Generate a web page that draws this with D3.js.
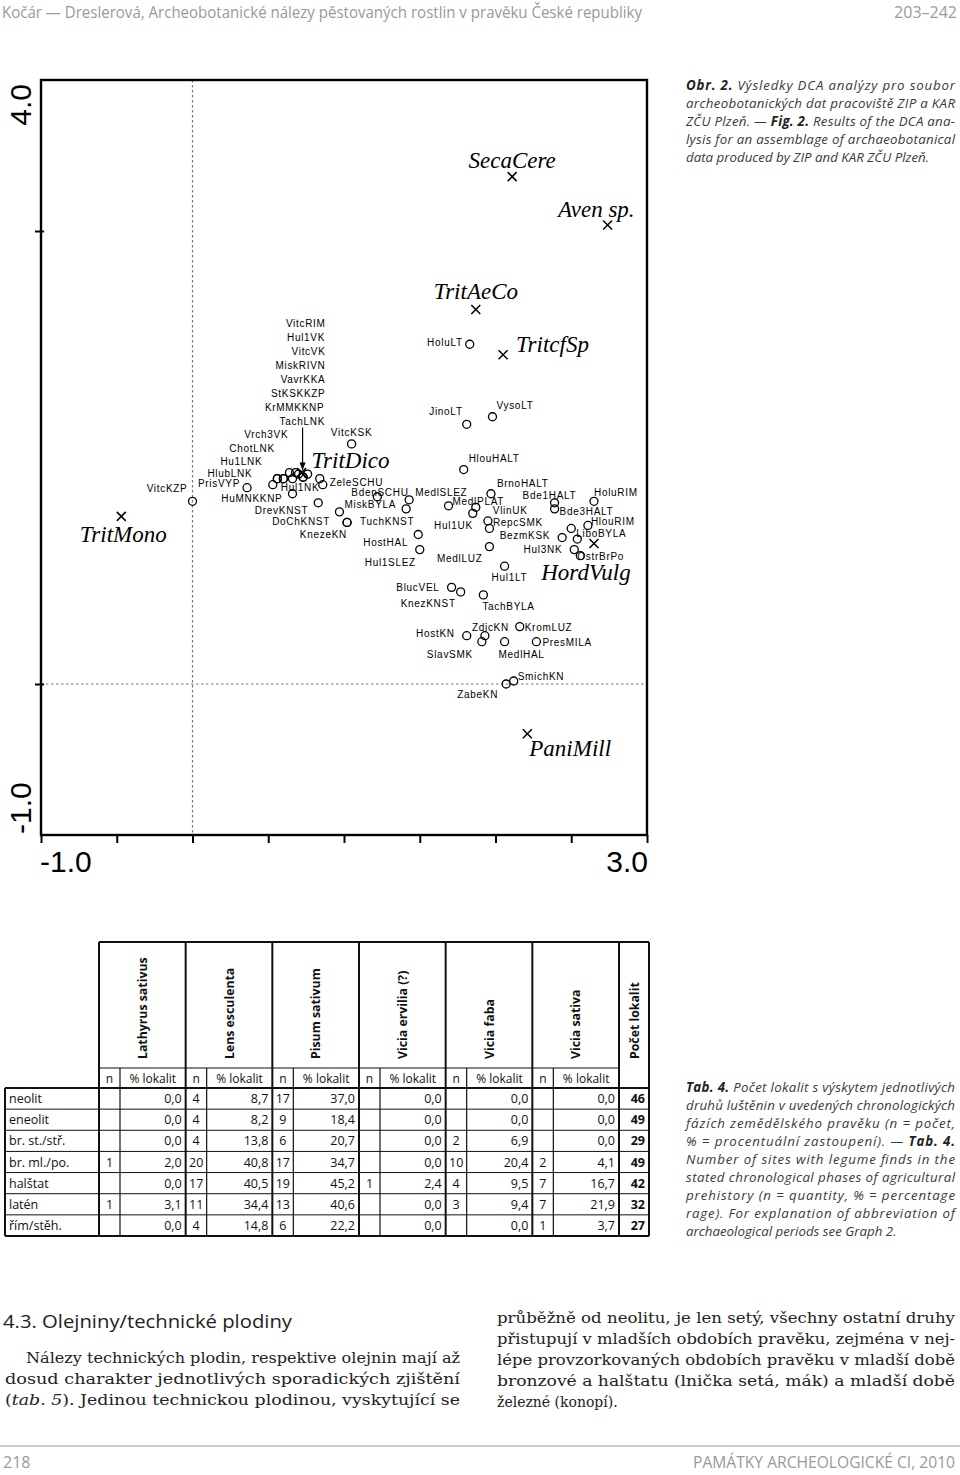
<!DOCTYPE html>
<html><head><meta charset="utf-8">
<script src="https://cdn.jsdelivr.net/npm/d3@7"></script>
<style>body{margin:0;background:#fff}svg{display:block}</style>
</head><body><svg id="c" width="960" height="1475"></svg>
<script>
// ---------- DCA ordination data (axis units) ----------
const speciesNames = ["SecaCere","Aven sp.","TritAeCo","TritcfSp","TritDico","TritMono","HordVulg","PaniMill"];
const speciesX = [2.11, 2.74, 1.87, 2.05, 0.72, -0.47, 2.65, 2.21];
const speciesY = [3.36, 3.04, 2.48, 2.18, 1.40, 1.11, 0.93, -0.33];

const siteNames = ["VitcRIM","Hul1VK","VitcVK","MiskRIVN","VavrKKA","StKSKKZP","KrMMKKNP","TachLNK","Vrch3VK","ChotLNK","Hu1LNK","HlubLNK",
  "PrisVYP","VitcKZP","HuMNKKNP","Hul1NK","ZeleSCHU","VitcKSK","DrevKNST","MiskBYLA","DoChKNST","KnezeKN","BdenSCHU","MedlSLEZ","TuchKNST","HostHAL","Hul1SLEZ",
  "HoluLT","JinoLT","VysoLT","HlouHALT","BrnoHALT","MedlPLAT","VlinUK","Hul1UK","RepcSMK","BezmKSK","MedlLUZ","Hul1LT",
  "Bde1HALT","Bde3HALT","HoluRIM","HlouRIM","LiboBYLA","Hul3NK","OstrBrPo",
  "BlucVEL","KnezKNST","TachBYLA","KromLUZ","ZdicKN","HostKN","SlavSMK","MedlHAL","PresMILA","SmichKN","ZabeKN"];
const siteX = [0.76,0.73,0.70,0.68,0.64,0.66,0.60,0.73,0.56,0.53,0.60,0.56,
  0.36,0.00,0.66,0.84,0.86,1.05,0.83,0.97,1.02,1.02,1.22,1.43,1.41,1.49,1.50,
  1.83,1.81,1.98,1.79,1.97,1.69,1.87,1.85,1.95,2.44,1.96,2.06,
  2.39,2.39,2.65,2.61,2.50,2.52,2.56,
  1.71,1.77,1.92,2.16,1.93,1.81,1.91,2.06,2.27,2.12,2.07];
const siteY = [1.39,1.37,1.39,1.40,1.40,1.36,1.36,1.37,1.36,1.32,1.36,1.36,
  1.30,1.21,1.26,1.36,1.32,1.59,1.20,1.14,1.07,1.07,1.24,1.22,1.16,0.99,0.89,
  2.25,1.72,1.77,1.42,1.26,1.18,1.17,1.13,1.08,0.97,0.91,0.78,
  1.20,1.16,1.21,1.05,1.03,0.89,0.85,
  0.64,0.61,0.59,0.38,0.32,0.32,0.28,0.28,0.28,0.02,0.00];
// sample points whose labels are not printed
const unlabeledX = [1.96, 2.54];
const unlabeledY = [1.03, 0.96];

const xTicks = [-1,-0.5,0,0.5,1,1.5,2,2.5,3];
const yTicks = [0,3];
const xTickLabels = ["-1.0","3.0"];
const yTickLabels = ["-1.0","4.0"];

// ---------- Table 4 data ----------
const periods = ["neolit","eneolit","br. st./stř.","br. ml./po.","halštat","latén","řím/stěh."];
const legumes = ["Lathyrus sativus","Lens esculenta","Pisum sativum","Vicia ervilia (?)","Vicia faba","Vicia sativa"];
const nLathyrus = [null,null,null,1,null,1,null];
const pLathyrus = [0.0,0.0,0.0,2.0,0.0,3.1,0.0];
const nLens = [4,4,4,20,17,11,4];
const pLens = [8.7,8.2,13.8,40.8,40.5,34.4,14.8];
const nPisum = [17,9,6,17,19,13,6];
const pPisum = [37.0,18.4,20.7,34.7,45.2,40.6,22.2];
const nErvilia = [null,null,null,null,1,null,null];
const pErvilia = [0.0,0.0,0.0,0.0,2.4,0.0,0.0];
const nFaba = [null,null,2,10,4,3,null];
const pFaba = [0.0,0.0,6.9,20.4,9.5,9.4,0.0];
const nSativa = [null,null,null,2,7,7,1];
const pSativa = [0.0,0.0,0.0,4.1,16.7,21.9,3.7];
const totalSites = [46,49,29,49,42,32,27];

// ---------- layout (label offsets in px) ----------
const speciesLabel = {
  "SecaCere":[0,-9,"middle"],"Aven sp.":[27,-8,"end"],"TritAeCo":[0,-11,"middle"],"TritcfSp":[13,-3,"start"],
  "TritDico":[10,-5,"start"],"TritMono":[2,26,"middle"],"HordVulg":[-8,36,"middle"],"PaniMill":[2,22,"start"]};
const siteLabel = {
  VitcRIM:[18,-147,"end"],Hul1VK:[22,-136,"end"],VitcVK:[27,-119,"end"],MiskRIVN:[30,-104,"end"],VavrKKA:[36,-90,"end"],
  StKSKKZP:[33,-82,"end"],KrMMKKNP:[41,-68,"end"],TachLNK:[22,-52,"end"],Vrch3VK:[11,-41,"end"],ChotLNK:[2,-33,"end"],
  Hu1LNK:[-21,-14,"end"],HlubLNK:[-25,-2,"end"],PrisVYP:[-7,-1,"end"],VitcKZP:[-5,-9,"end"],HuMNKKNP:[-10,8,"end"],
  Hul1NK:[-39,12,"start"],ZeleSCHU:[7,1,"start"],VitcKSK:[0,-8,"middle"],DrevKNST:[-10,11,"end"],MiskBYLA:[5,-4,"start"],
  DoChKNST:[-17,3,"end"],KnezeKN:[0,16,"end"],BdenSCHU:[-26,-1,"start"],MedlSLEZ:[6,-4,"start"],TuchKNST:[-46,16,"start"],
  HostHAL:[-55,11,"start"],Hul1SLEZ:[-55,16,"start"],HoluLT:[-7,2,"end"],JinoLT:[-4,-9,"end"],VysoLT:[4,-8,"start"],
  HlouHALT:[5,-8,"start"],BrnoHALT:[6,-7,"start"],MedlPLAT:[4,-1,"start"],VlinUK:[17,7,"start"],Hul1UK:[0,16,"end"],
  RepcSMK:[5,5,"start"],BezmKSK:[-12,1,"end"],MedlLUZ:[-7,15,"end"],Hul1LT:[-13,15,"start"],Bde1HALT:[-32,-4,"start"],
  Bde3HALT:[5,6,"start"],HoluRIM:[0,-5,"start"],HlouRIM:[3,0,"start"],LiboBYLA:[5,9,"start"],Hul3NK:[-12,3,"end"],
  OstrBrPo:[-3,4,"start"],BlucVEL:[-12,4,"end"],KnezKNST:[-60,15,"start"],TachBYLA:[-1,15,"start"],KromLUZ:[5,4,"start"],
  ZdicKN:[-13,-5,"start"],HostKN:[-12,1,"end"],SlavSMK:[-9,16,"end"],MedlHAL:[-6,16,"start"],PresMILA:[6,4,"start"],
  SmichKN:[4,-1,"start"],ZabeKN:[-8,14,"end"]};

const svg = d3.select("#c");
svg.append("rect").attr("width",960).attr("height",1475).attr("fill","#fff");

// ---------- running header ----------
svg.append("text").attr("x",2).attr("y",18).attr("font-family","Open Sans").attr("font-size",16)
  .attr("fill","#9a9a9a").attr("textLength",640).attr("lengthAdjust","spacingAndGlyphs")
  .text("Kočár — Dreslerová, Archeobotanické nálezy pěstovaných rostlin v pravěku České republiky");
svg.append("text").attr("x",957).attr("y",18).attr("text-anchor","end").attr("font-family","Open Sans").attr("font-size",16)
  .attr("fill","#9a9a9a").text("203–242");

// ---------- DCA plot ----------
const L=41, R=647, T=80, B=835;
const x = d3.scaleLinear().domain([-1,3]).range([L,R]);
const y = d3.scaleLinear().domain([-1,4]).range([B,T]);
const plot = svg.append("g");

// zero lines
plot.append("line").attr("x1",x(0)).attr("x2",x(0)).attr("y1",T).attr("y2",B)
  .attr("stroke","#777").attr("stroke-width",1.2).attr("stroke-dasharray","2.5,2.5");
plot.append("line").attr("x1",L).attr("x2",R).attr("y1",y(0)).attr("y2",y(0))
  .attr("stroke","#777").attr("stroke-width",1.2).attr("stroke-dasharray","2.5,2.5");

// frame
plot.append("rect").attr("x",L).attr("y",T).attr("width",R-L).attr("height",B-T)
  .attr("fill","none").attr("stroke","#000").attr("stroke-width",2.4);

// axes ticks
const xAxis = d3.axisBottom(x).tickValues(xTicks).tickSize(8).tickFormat("");
const gx = plot.append("g").attr("transform",`translate(0,${B})`).call(xAxis);
gx.select(".domain").remove();
gx.selectAll("line").attr("stroke","#000").attr("stroke-width",2);
const yAxis = d3.axisLeft(y).tickValues(yTicks).tickSize(6).tickFormat("");
const gy = plot.append("g").attr("transform",`translate(${L+3},0)`).call(yAxis);
gy.select(".domain").remove();
gy.selectAll("line").attr("stroke","#000").attr("stroke-width",2).attr("x2",-9);

// axis end labels
const axFont = {"font-family":"Liberation Sans, Arial, sans-serif","font-size":30};
function applyAttrs(sel,o){Object.entries(o).forEach(([k,v])=>sel.attr(k,v));return sel;}
applyAttrs(plot.append("text").attr("x",x(-1)-1).attr("y",B+37).text(xTickLabels[0]),axFont);
applyAttrs(plot.append("text").attr("x",x(3)+1).attr("y",B+37).attr("text-anchor","end").text(xTickLabels[1]),axFont);
applyAttrs(plot.append("text").attr("transform",`translate(31,${y(-1)-1}) rotate(-90)`).text(yTickLabels[0]),axFont);
applyAttrs(plot.append("text").attr("transform",`translate(31,${y(4)+4}) rotate(-90)`).attr("text-anchor","end").text(yTickLabels[1]),axFont);

// arrow pointing at the TritDico cluster
const tdx = x(speciesX[4]), tdy = y(speciesY[4]);
plot.append("line").attr("x1",tdx+1).attr("x2",tdx+1).attr("y1",tdy-45).attr("y2",tdy-8).attr("stroke","#000").attr("stroke-width",1.2);
plot.append("path").attr("d",`M${tdx-2},${tdy-10} L${tdx+4},${tdy-10} L${tdx+1},${tdy-2} Z`).attr("fill","#000");

// sites
const sites = siteNames.map((n,i)=>({n,x:siteX[i],y:siteY[i]}));
const extras = unlabeledX.map((v,i)=>({x:v,y:unlabeledY[i]}));
plot.selectAll("circle.site").data(sites.concat(extras)).join("circle").attr("class","site")
  .attr("cx",d=>x(d.x)).attr("cy",d=>y(d.y)).attr("r",4)
  .attr("fill","none").attr("stroke","#000").attr("stroke-width",1.3);
plot.selectAll("text.site").data(sites).join("text").attr("class","site")
  .attr("x",d=>x(d.x)+siteLabel[d.n][0]).attr("y",d=>y(d.y)+siteLabel[d.n][1])
  .attr("text-anchor",d=>siteLabel[d.n][2])
  .attr("font-family","Liberation Sans, Arial, sans-serif").attr("font-size",10)
  .attr("letter-spacing",0.7).attr("fill","#000").text(d=>d.n);

// species
const species = speciesNames.map((n,i)=>({n,x:speciesX[i],y:speciesY[i]}));
const cross = plot.selectAll("g.sp").data(species).join("g").attr("class","sp")
  .attr("transform",d=>`translate(${x(d.x)},${y(d.y)})`);
cross.append("path").attr("d","M-4.5,-4.5L4.5,4.5M-4.5,4.5L4.5,-4.5").attr("stroke","#000").attr("stroke-width",1.5);
cross.append("text").attr("x",d=>speciesLabel[d.n][0]).attr("y",d=>speciesLabel[d.n][1])
  .attr("text-anchor",d=>speciesLabel[d.n][2])
  .attr("font-family","Liberation Serif, Times New Roman, serif").attr("font-style","italic").attr("font-size",23)
  .attr("fill","#000").text(d=>d.n);

// ---------- captions ----------
function captionLine(g, xx, yy, parts, justify, width){
  const t = g.append("text").attr("x",xx).attr("y",yy).attr("font-family","Open Sans").attr("font-style","italic")
    .attr("font-size",13.3).attr("fill","#3a3a3a");
  if (justify) t.attr("textLength",width).attr("lengthAdjust","spacing");
  parts.forEach(p=>{ const s=t.append("tspan").text(p[0]); if(p[1]) s.attr("font-weight","bold").attr("fill","#222"); });
}
const cap = svg.append("g");
const obrLines = [
  [["Obr. 2.",1],[" Výsledky DCA analýzy pro soubor"]],
  [["archeobotanických dat pracoviště ZIP a KAR"]],
  [["ZČU Plzeň. — "],["Fig. 2.",1],[" Results of the DCA ana-"]],
  [["lysis for an assemblage of archaeobotanical"]],
  [["data produced by ZIP and KAR ZČU Plzeň."]]];
obrLines.forEach((ln,i)=>captionLine(cap,686,90+i*18,ln,i<4,269));
const tabLines = [
  [["Tab. 4.",1],[" Počet lokalit s výskytem jednotlivých"]],
  [["druhů luštěnin v uvedených chronologických"]],
  [["fázích zemědělského pravěku (n = počet,"]],
  [["% = procentuální zastoupení). — "],["Tab. 4.",1]],
  [["Number of sites with legume finds in the"]],
  [["stated chronological phases of agricultural"]],
  [["prehistory (n = quantity, % = percentage"]],
  [["rage). For explanation of abbreviation of"]],
  [["archaeological periods see Graph 2."]]];
tabLines.forEach((ln,i)=>captionLine(cap,686,1092+i*18,ln,i<8,269));

// ---------- Table 4 ----------
const tb = svg.append("g");
const nByLegume = [nLathyrus,nLens,nPisum,nErvilia,nFaba,nSativa];
const pByLegume = [pLathyrus,pLens,pPisum,pErvilia,pFaba,pSativa];
const colX = d3.scaleBand().domain(legumes).range([99,619]);
const rowY = d3.scaleBand().domain(periods).range([1088,1236]);
const nW = 21, TT = 942, SH = 1068, PR = 649, LX = 5;
const line = (x1,y1,x2,y2,w)=>tb.append("line").attr("x1",x1).attr("y1",y1).attr("x2",x2).attr("y2",y2)
  .attr("stroke","#111").attr("stroke-width",w);
line(99,TT,PR,TT,2);
line(99,SH,619,SH,1.2);
line(LX,1088,PR,1088,2);
periods.slice(1).forEach(p=>line(LX,rowY(p),PR,rowY(p),1));
line(LX,1236,PR,1236,2);
line(LX,1088,LX,1236,2);
legumes.forEach(l=>{ line(colX(l),TT,colX(l),1236,2); line(colX(l)+nW,SH,colX(l)+nW,1236,1.2); });
line(619,TT,619,1236,2);
line(PR,TT,PR,1236,2);

const bodyFont = "Open Sans";
legumes.forEach(l=>{
  tb.append("text").attr("transform",`translate(${colX(l)+colX.bandwidth()/2+4.5},1059) rotate(-90)`)
    .attr("font-family",bodyFont).attr("font-weight","bold").attr("font-size",12.3).attr("fill","#111").text(l);
  tb.append("text").attr("x",colX(l)+nW/2).attr("y",SH+15).attr("text-anchor","middle")
    .attr("font-family",bodyFont).attr("font-size",12).attr("fill","#111").text("n");
  tb.append("text").attr("x",colX(l)+nW+(colX.bandwidth()-nW)/2).attr("y",SH+15).attr("text-anchor","middle")
    .attr("font-family",bodyFont).attr("font-size",12).attr("fill","#111").text("% lokalit");
});
tb.append("text").attr("transform",`translate(${634+4.5},1059) rotate(-90)`)
  .attr("font-family",bodyFont).attr("font-weight","bold").attr("font-size",12.3).attr("fill","#111").text("Počet lokalit");

const fmt = v => d3.format(".1f")(v).replace(".",",");
periods.forEach((p,i)=>{
  const yy = rowY(p)+rowY.bandwidth()/2+4.5;
  tb.append("text").attr("x",9).attr("y",yy).attr("font-family",bodyFont).attr("font-size",12.5).attr("fill","#111").text(p);
  legumes.forEach((l,j)=>{
    const nv = nByLegume[j][i];
    if (nv!==null) tb.append("text").attr("x",colX(l)+nW/2).attr("y",yy).attr("text-anchor","middle")
      .attr("font-family",bodyFont).attr("font-size",12.5).attr("fill","#111").text(nv);
    tb.append("text").attr("x",colX(l)+colX.bandwidth()-4).attr("y",yy).attr("text-anchor","end")
      .attr("font-family",bodyFont).attr("font-size",12.5).attr("fill","#111").text(fmt(pByLegume[j][i]));
  });
  tb.append("text").attr("x",PR-4).attr("y",yy).attr("text-anchor","end").attr("font-family",bodyFont)
    .attr("font-weight","bold").attr("font-size",12.5).attr("fill","#111").text(totalSites[i]);
});

// ---------- body text ----------
const body = svg.append("g");
body.append("text").attr("x",3).attr("y",1328).attr("font-family","Open Sans").attr("font-size",19)
  .attr("fill","#222").attr("textLength",289).attr("lengthAdjust","spacingAndGlyphs").text("4.3. Olejniny/technické plodiny");
const serif = "DejaVu Serif";
function bodyLine(xx,yy,w,parts,justify){
  const t = body.append("text").attr("x",xx).attr("y",yy).attr("font-family",serif).attr("font-size",14)
    .attr("fill","#222");
  if(justify) t.attr("textLength",w).attr("lengthAdjust","spacingAndGlyphs");
  parts.forEach(p=>{const s=t.append("tspan").text(p[0]); if(p[1]) s.attr("font-style","italic");});
}
bodyLine(26,1363,434,[["Nálezy technických plodin, respektive olejnin mají až"]],true);
bodyLine(5,1384,455,[["dosud charakter jednotlivých sporadických zjištění"]],true);
bodyLine(5,1405,455,[["("],["tab. 5",1],["). Jedinou technickou plodinou, vyskytující se"]],true);
bodyLine(497,1323,458,[["průběžně od neolitu, je len setý, všechny ostatní druhy"]],true);
bodyLine(497,1344,458,[["přistupují v mladších obdobích pravěku, zejména v nej-"]],true);
bodyLine(497,1365,458,[["lépe provzorkovaných obdobích pravěku v mladší době"]],true);
bodyLine(497,1386,458,[["bronzové a halštatu (lnička setá, mák) a mladší době"]],true);
bodyLine(497,1407,138,[["železné (konopí)."]],false);

// ---------- footer ----------
svg.append("line").attr("x1",0).attr("x2",960).attr("y1",1446).attr("y2",1446).attr("stroke","#999").attr("stroke-width",1);
svg.append("text").attr("x",3).attr("y",1468).attr("font-family","Open Sans").attr("font-size",16).attr("fill","#9a9a9a").text("218");
svg.append("text").attr("x",955).attr("y",1468).attr("text-anchor","end").attr("font-family","Open Sans").attr("font-size",16)
  .attr("fill","#9a9a9a").attr("textLength",262).attr("lengthAdjust","spacingAndGlyphs").text("PAMÁTKY ARCHEOLOGICKÉ CI, 2010");
</script></body></html>
